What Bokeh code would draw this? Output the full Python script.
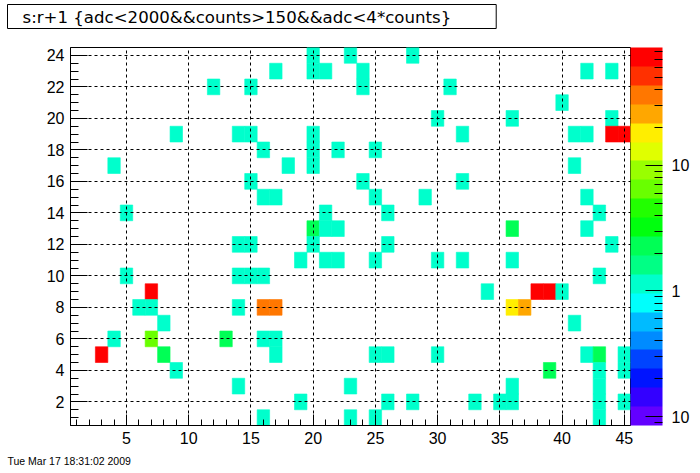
from bokeh.plotting import figure
from bokeh.models import LogColorMapper, ColorBar, FixedTicker, Title, ColumnDataSource
from bokeh.transform import transform
from bokeh.embed import file_html
from bokeh.resources import INLINE

# ---------------- data ----------------
title_text = "s:r+1 {adc<2000&&counts>150&&adc<4*counts}"
date_text = "Tue Mar 17 18:31:02 2009"

x_ticks = [5, 10, 15, 20, 25, 30, 35, 40, 45]
y_ticks = [2, 4, 6, 8, 10, 12, 14, 16, 18, 20, 22, 24]
z_ticks = [0.1, 1, 10]
z_labels = {0.1: "10", 1: "1", 10: "10"}

# cells, one row (y bin) at a time: s bins and their counts
row_y = [24, 23, 22, 21, 20, 19, 18, 17, 16, 15, 14, 13,
         12, 11, 10, 9, 8, 7, 6, 5, 4, 3, 2, 1]
row_s = [
    [20, 23, 28],
    [17, 20, 21, 24, 42, 44],
    [12, 15, 24, 31],
    [40],
    [30, 36, 44],
    [9, 14, 15, 20, 32, 41, 42, 44, 45],
    [16, 20, 22, 25],
    [4, 18, 20, 41],
    [15, 24, 32],
    [16, 17, 25, 29, 42],
    [5, 21, 26, 43],
    [20, 21, 22, 36, 42],
    [14, 15, 20, 26, 44],
    [19, 21, 22, 25, 30, 32, 36],
    [5, 14, 15, 16, 43],
    [7, 34, 38, 39, 40],
    [6, 7, 14, 16, 17, 36, 37],
    [8, 41],
    [4, 7, 13, 16, 17],
    [3, 8, 17, 25, 26, 30, 42, 43, 45],
    [9, 39, 43, 45],
    [14, 23, 36, 43],
    [19, 26, 28, 33, 35, 36, 43, 45],
    [16, 23, 25, 43],
]
row_counts = [
    [1, 1, 1],
    [1, 1, 1, 1, 1, 1],
    [1, 1, 1, 1],
    [1],
    [1, 1, 1],
    [1, 1, 1, 1, 1, 1, 1, 80, 80],
    [1, 1, 1, 1],
    [1, 1, 1, 1],
    [1, 1, 1],
    [1, 1, 1, 1, 1],
    [1, 1, 1, 1],
    [2, 1, 1, 2, 1],
    [1, 1, 1, 1, 1],
    [1, 1, 1, 1, 1, 1, 1],
    [1, 1, 1, 1, 1],
    [75, 1, 78, 78, 1],
    [1, 1, 1, 38, 38, 19, 26],
    [1, 1],
    [1, 6, 2, 1, 1],
    [72, 2, 1, 1, 1, 1, 1, 2, 1],
    [1, 2, 1, 1],
    [1, 1, 1, 1],
    [1, 1, 1, 1, 1, 1, 1, 1],
    [1, 1, 1, 1],
]

z_low, z_high = 0.0848, 86.8

palette = ["#6300FF", "#3300FF", "#0014FF", "#0044FF", "#008BFF",
           "#00BBFF", "#00FFFC", "#00FFCC", "#00FF85", "#00FF55",
           "#00FF0E", "#22FF00", "#69FF00", "#99FF00", "#E0FF00",
           "#FFEE00", "#FFA700", "#FF7700", "#FF3000", "#FF0000"]

# ---------------- build ----------------
cell_x, cell_y, cell_v = [], [], []
for yy, ss, cc in zip(row_y, row_s, row_counts):
    for s, c in zip(ss, cc):
        cell_x.append(s)
        cell_y.append(yy)
        cell_v.append(c)
src = ColumnDataSource(dict(x=cell_x, y=cell_y, v=cell_v))

mapper = LogColorMapper(palette=palette, low=z_low, high=z_high)

p = figure(frame_width=560, frame_height=378, x_range=(0.5, 45.5), y_range=(0.5, 24.5),
           output_backend="svg", toolbar_location=None,
           min_border_left=70, min_border_right=70, min_border_top=47, min_border_bottom=48)
p.background_fill_color = "white"
p.border_fill_color = "white"
p.outline_line_color = "black"
p.outline_line_width = 1

p.rect(x="x", y="y", width=1, height=1, source=src,
       fill_color=transform("v", mapper), line_color=transform("v", mapper), line_width=0.6)

x_minor = list(range(1, 46))
y_minor = [i * 0.5 for i in range(2, 49)]

p.xaxis.ticker = FixedTicker(ticks=x_ticks, minor_ticks=x_minor)
p.yaxis.ticker = FixedTicker(ticks=y_ticks, minor_ticks=y_minor)
p.xgrid.ticker = FixedTicker(ticks=x_ticks)
p.ygrid.ticker = FixedTicker(ticks=y_ticks)
for g in (p.xgrid, p.ygrid):
    g.grid_line_color = "black"
    g.grid_line_dash = "3 3"
    g.grid_line_width = 1
    g.level = "overlay"

for ax in (p.xaxis, p.yaxis):
    ax.axis_line_color = "black"
    ax.major_tick_line_color = "black"
    ax.minor_tick_line_color = "black"
    ax.major_tick_out = 0
    ax.minor_tick_out = 0
    ax.major_label_text_font = "Liberation Sans"
    ax.major_label_text_font_size = "16px"
    ax.major_label_text_color = "black"
p.xaxis.major_tick_in = 11
p.xaxis.minor_tick_in = 6
p.xaxis.major_label_standoff = 6
p.yaxis.major_tick_in = 17
p.yaxis.minor_tick_in = 8
p.yaxis.major_label_standoff = 6

z_minor = [0.09, 0.2, 0.3, 0.4, 0.5, 0.6, 0.7, 0.8, 0.9,
           2, 3, 4, 5, 6, 7, 8, 9, 20, 30, 40, 50, 60, 70, 80]
cb = ColorBar(color_mapper=mapper, ticker=FixedTicker(ticks=z_ticks, minor_ticks=z_minor),
              major_label_overrides=z_labels, orientation="vertical", location="top_left",
              width=32, height=378, margin=2, padding=0, label_standoff=9,
              major_tick_in=17, major_tick_out=0, minor_tick_in=8, minor_tick_out=0,
              major_tick_line_color="black", minor_tick_line_color="black",
              bar_line_color=None, border_line_color=None, background_fill_color=None,
              major_label_text_font="Liberation Sans", major_label_text_font_size="16px",
              major_label_text_color="black")
p.add_layout(cb, "right")

# empty spacer between the title box and the frame
spacer = Title(text=" ", text_font_size="1px", standoff=16)
p.add_layout(spacer, "above")

p.title = Title(text=title_text, align="left", offset=-63, standoff=0,
                text_font="DejaVu Sans", text_font_size="16.6px", text_font_style="normal",
                text_color="black", border_line_color="black", background_fill_color="white",
                padding=(15, 45, 3, 2))

date = Title(text=date_text, align="left", offset=-63, standoff=12,
             text_font="Liberation Sans", text_font_size="10.5px", text_font_style="normal",
             text_color="black")
p.add_layout(date, "below")

open("out.html", "w").write(file_html(p, INLINE))
